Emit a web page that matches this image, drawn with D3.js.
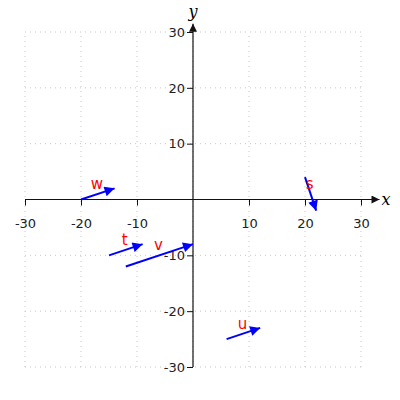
<!DOCTYPE html>
<html>
<head>
<meta charset="utf-8">
<script src="https://cdn.jsdelivr.net/npm/d3@7"></script>
<style>
  body { margin: 0; background: #fff; }
  svg { display: block; }
</style>
</head>
<body>
<div id="chart"></div>
<script>
// vector names, start points and components
var vec_names = ["s", "t", "u", "v", "w"];
var vec_x0 = [20, -15, 6, -12, -20];
var vec_y0 = [4, -10, -25, -12, 0];
var vec_dx = [2, 6, 6, 12, 6];
var vec_dy = [-6, 2, 2, 4, 2];
var tick_values = [-30, -20, -10, 10, 20, 30];
var grid_values = [-30, -20, -10, 0, 10, 20, 30];

var width = 400, height = 400;

var x = d3.scaleLinear().domain([-30, 30]).range([25, 361]);
var y = d3.scaleLinear().domain([-30, 30]).range([367, 32]);

var svg = d3.select("#chart").append("svg")
    .attr("width", width)
    .attr("height", height);

var defs = svg.append("defs");
defs.append("marker")
    .attr("id", "axisarrow")
    .attr("viewBox", "0 0 10 10")
    .attr("refX", 10).attr("refY", 5)
    .attr("markerWidth", 10).attr("markerHeight", 8)
    .attr("markerUnits", "userSpaceOnUse")
    .attr("orient", "auto")
  .append("path")
    .attr("d", "M0,0 L10,5 L0,10 Z")
    .attr("fill", "#111");
defs.append("marker")
    .attr("id", "vecarrow")
    .attr("viewBox", "0 0 10 10")
    .attr("refX", 10).attr("refY", 5)
    .attr("markerWidth", 14).attr("markerHeight", 10)
    .attr("markerUnits", "userSpaceOnUse")
    .attr("orient", "auto")
  .append("path")
    .attr("d", "M0,0 L10,5 L0,10 Z")
    .attr("fill", "#0000ff");

// grid
var grid = svg.append("g").attr("class", "grid");
grid.selectAll(".vgrid")
    .data(grid_values)
  .enter().append("line")
    .attr("x1", function(d) { return x(d); })
    .attr("x2", function(d) { return x(d); })
    .attr("y1", y(-30)).attr("y2", y(30))
    .attr("stroke", "#c8c8c8")
    .attr("stroke-dasharray", "1,4");
grid.selectAll(".hgrid")
    .data(grid_values)
  .enter().append("line")
    .attr("y1", function(d) { return y(d); })
    .attr("y2", function(d) { return y(d); })
    .attr("x1", x(-30)).attr("x2", x(30))
    .attr("stroke", "#c8c8c8")
    .attr("stroke-dasharray", "1,4");

// x axis
var xAxis = d3.axisBottom(x).tickValues(tick_values).tickSize(6).tickFormat(function(d) { return String(d); });
var gx = svg.append("g")
    .attr("transform", "translate(0," + y(0) + ")")
    .call(xAxis);
gx.select(".domain").remove();
gx.selectAll(".tick line").attr("stroke", "#111");
gx.selectAll(".tick text")
    .attr("y", 19)
    .attr("font-family", "DejaVu Sans")
    .attr("font-size", "13px")
    .attr("fill", "#222");
svg.append("line")
    .attr("x1", x(-30)).attr("x2", x(33.3))
    .attr("y1", y(0)).attr("y2", y(0))
    .attr("stroke", "#111").attr("stroke-width", 1.2)
    .attr("marker-end", "url(#axisarrow)");

// y axis
var yAxis = d3.axisLeft(y).tickValues(tick_values).tickSize(6).tickFormat(function(d) { return String(d); });
var gy = svg.append("g")
    .attr("transform", "translate(" + x(0) + ",0)")
    .call(yAxis);
gy.select(".domain").remove();
gy.selectAll(".tick line").attr("stroke", "#111");
gy.selectAll(".tick text")
    .attr("x", -8)
    .attr("font-family", "DejaVu Sans")
    .attr("font-size", "13px")
    .attr("fill", "#222");
svg.append("line")
    .attr("x1", x(0)).attr("x2", x(0))
    .attr("y1", y(-30)).attr("y2", y(31.5))
    .attr("stroke", "#111").attr("stroke-width", 1.2)
    .attr("marker-end", "url(#axisarrow)");

svg.append("text")
    .attr("x", 386).attr("y", y(0) + 5)
    .attr("text-anchor", "middle")
    .attr("font-family", "DejaVu Serif")
    .attr("font-style", "italic")
    .attr("font-size", "16px")
    .text("x");
svg.append("text")
    .attr("x", x(0)).attr("y", 17)
    .attr("text-anchor", "middle")
    .attr("font-family", "DejaVu Serif")
    .attr("font-style", "italic")
    .attr("font-size", "16px")
    .text("y");

// vectors
var vectors = vec_names.map(function(n, i) {
  return {name: n, x0: vec_x0[i], y0: vec_y0[i], dx: vec_dx[i], dy: vec_dy[i]};
});

svg.selectAll(".vec")
    .data(vectors)
  .enter().append("line")
    .attr("class", "vec")
    .attr("x1", function(d) { return x(d.x0); })
    .attr("y1", function(d) { return y(d.y0); })
    .attr("x2", function(d) { return x(d.x0 + d.dx); })
    .attr("y2", function(d) { return y(d.y0 + d.dy); })
    .attr("stroke", "#0000ff")
    .attr("stroke-width", 2)
    .attr("marker-end", "url(#vecarrow)");

svg.selectAll(".veclabel")
    .data(vectors)
  .enter().append("text")
    .attr("class", "veclabel")
    .attr("x", function(d) { return x(d.x0 + d.dx / 2) - 1; })
    .attr("y", function(d) { return y(d.y0 + d.dy / 2) - 5; })
    .attr("text-anchor", "middle")
    .attr("font-family", "DejaVu Sans")
    .attr("font-size", "15px")
    .attr("fill", "#ff0000")
    .text(function(d) { return d.name; });
</script>
</body>
</html>
